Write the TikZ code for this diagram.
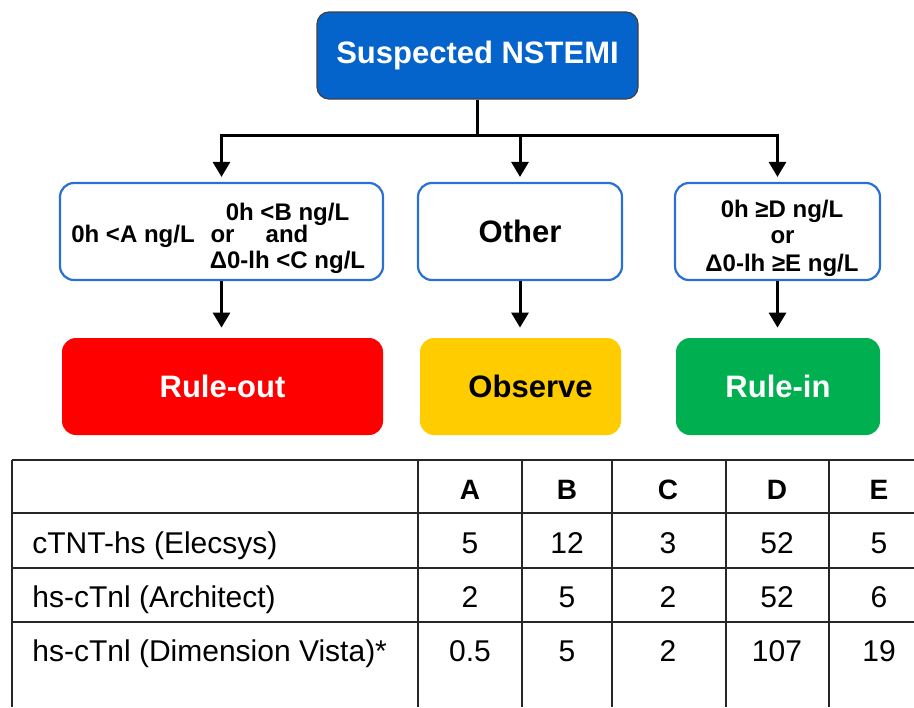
\documentclass[tikz,border=0pt]{standalone}
\usepackage{fontspec}
\setmainfont{Liberation Sans}
\usetikzlibrary{arrows.meta}

\definecolor{topblue}{RGB}{5,100,204}
\definecolor{boxblue}{RGB}{40,112,214}
\definecolor{outred}{RGB}{255,0,0}
\definecolor{obsyellow}{RGB}{255,204,0}
\definecolor{ingreen}{RGB}{0,176,80}

\begin{document}
\begin{tikzpicture}[x=0.5pt,y=-0.5pt,
    flow/.style={line width=1.5pt},
    flowarrow/.style={flow,-{Triangle[length=7.5pt,width=8.5pt]}},
    critbox/.style={draw=boxblue,line width=1.1pt,rounded corners=7pt,fill=white,minimum height=48.5pt},
    outbox/.style={rounded corners=7pt,minimum height=48.5pt,font=\bfseries\fontsize{15.5}{18}\selectfont},
    crit/.style={font=\bfseries\fontsize{12}{14}\selectfont,inner sep=0pt,anchor=base},
    cell/.style={font=\fontsize{15}{18}\selectfont,inner sep=0pt,anchor=base},
    grid/.style={line width=1pt,draw=black!85}]
            \useasboundingbox (0,0) rectangle (914,707);
            % flow chart
            \node[draw=black!75,line width=0.6pt,fill=topblue,rounded corners=6pt,text=white,
                minimum width=160.5pt,minimum height=43.5pt,
                font=\bfseries\fontsize{15.5}{18}\selectfont] (nstemi) at (477.5,55.5) {Suspected NSTEMI};
            \node[critbox,minimum width=161.5pt] (rulecrit) at (221.5,231.5) {};
            \node[critbox,minimum width=102pt,font=\bfseries\fontsize{15.5}{18}\selectfont] (other) at (520,231.5) {Other};
            \node[critbox,minimum width=102.5pt] (incrit) at (777.5,231.5) {};
            \node[crit] (azero) at (133,242) {0h <A ng/L};
            \node[crit] (bzero) at (287.5,220) {0h <B ng/L};
            \node[crit] (orleft) at (222.5,242) {or};
            \node[crit] (andleft) at (287,242) {and};
            \node[crit] (cdelta) at (287.5,268) {Δ0-lh <C ng/L};
            \node[crit] (dzero) at (782,217) {0h ≥D ng/L};
            \node[crit] (orright) at (782.5,243) {or};
            \node[crit] (edelta) at (782,271) {Δ0-lh ≥E ng/L};
            \node[outbox,fill=outred,text=white,minimum width=160.5pt] (ruleout) at (222.5,386.5) {Rule-out};
            \node[outbox,fill=obsyellow,text=black,minimum width=100.5pt] (observe) at (520.5,386.5) {\hspace*{10pt}Observe};
            \node[outbox,fill=ingreen,text=white,minimum width=102pt] (rulein) at (778,386.5) {Rule-in};
            \coordinate (split) at (477.5,135);
            \draw[flow] (nstemi.south) -- (split);
            \draw[flow,line cap=rect] (rulecrit.north |- split) -- (incrit.north |- split);
            \foreach \n in {rulecrit,other,incrit}
                \draw[flowarrow,shorten >=2.5pt] (\n.north |- split) -- (\n.north);
            \draw[flowarrow,shorten >=5pt] (rulecrit.south) -- (rulecrit.south |- ruleout.north);
            \draw[flowarrow,shorten >=5pt] (other.south) -- (other.south |- observe.north);
            \draw[flowarrow,shorten >=5pt] (incrit.south) -- (incrit.south |- rulein.north);
            % table
            \foreach \y in {460,513,568,622}
                \draw[grid] (12,\y) -- (914,\y);
            \foreach \x in {12,418,522,612,726,829}
                \draw[grid] (\x,460) -- (\x,707);
            \foreach \x/\t in {470/A,567/B,668/C,777/D,879/E}
                \node[cell,font=\bfseries\fontsize{14}{17}\selectfont] (head\t) at (\x,499) {\t};
            \node[cell,anchor=base west] (elecsys) at (32,553) {cTNT-hs (Elecsys)};
            \node[cell,anchor=base west] (architect) at (32,607) {hs-cTnl (Architect)};
            \node[cell,anchor=base west] (vista) at (32,661) {hs-cTnl (Dimension Vista)*};
            \foreach \x/\a/\b/\c [count=\i] in {470/5/2/0.5,567/12/5/5,668/3/2/2,777/52/52/107,879/5/6/19}{
                \node[cell] (elec\i) at (\x,553) {\a};
                \node[cell] (arch\i) at (\x,607) {\b};
                \node[cell] (vist\i) at (\x,661) {\c};
            }
        \end{tikzpicture}
\end{document}
